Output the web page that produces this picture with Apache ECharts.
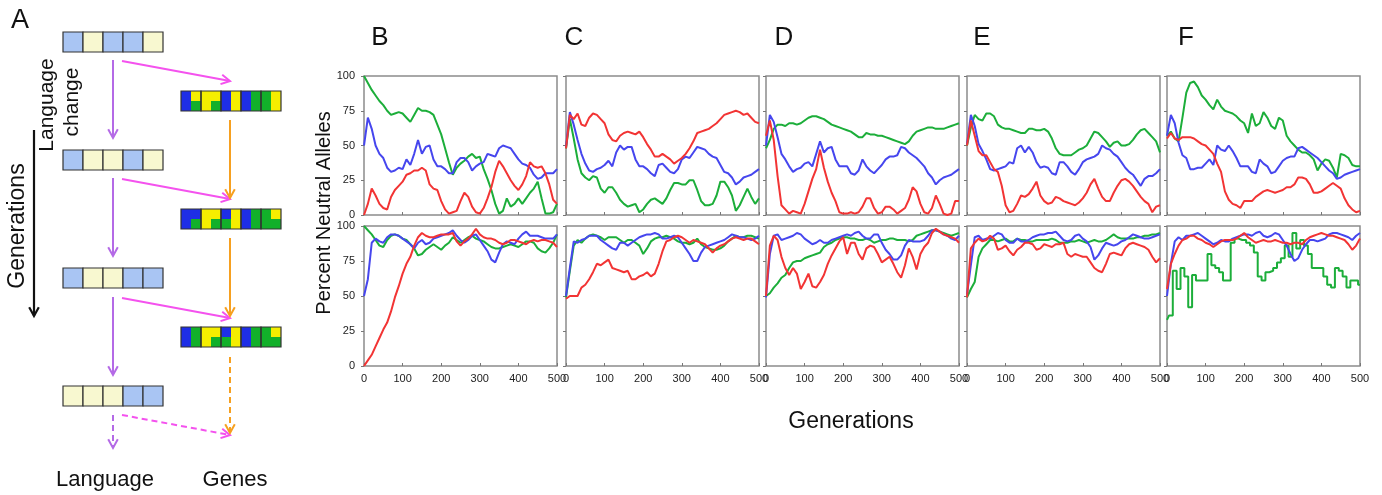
<!DOCTYPE html>
<html><head><meta charset="utf-8">
<script src="https://cdn.jsdelivr.net/npm/echarts@6/dist/echarts.min.js"></script>
<style>html,body{margin:0;padding:0;background:#fff}#c{width:1382px;height:495px}</style>
</head><body><div id="c"></div><script>
// ---------- DATA ----------
const gens = [0,10,20,30,40,50,60,70,80,90,100,110,120,130,140,150,160,170,180,190,200,210,220,230,240,250,260,270,280,290,300,310,320,330,340,350,360,370,380,390,400,410,420,430,440,450,460,470,480,490,500];
const xTicks = [0,100,200,300,400,500];
const yTicks = [0,25,50,75,100];
const panelLetters = ['B','C','D','E','F'];

const bTopG = [100,95,90,86,82,79,75,72,73,74,73,70,67,72,77,75,75,74,72,65,58,48,38,29,34,37,39,42,44,41,42,33,26,18,8,1,3,12,6,8,12,8,12,16,19,24,12,1,1,2,8];
const bTopB = [50,70,62,50,44,41,34,31,32,34,33,40,36,44,54,44,49,50,40,35,35,33,30,30,38,41,41,38,32,35,37,38,44,43,42,48,50,49,48,44,40,37,36,34,29,26,27,30,30,30,33];
const bTopR = [0,8,19,14,8,5,4,13,18,21,24,29,30,32,32,34,32,22,19,18,10,4,1,2,3,10,16,13,6,2,1,5,12,20,31,39,35,30,25,21,18,22,28,38,35,34,35,30,22,11,8];
const bBotB = [50,62,88,91,89,88,92,94,94,93,91,89,87,84,88,90,87,88,91,92,93,94,95,97,93,90,88,90,93,94,90,86,82,76,74,81,87,89,88,87,91,94,96,93,93,93,92,91,91,91,94];
const bBotG = [100,97,94,90,86,85,90,93,94,93,91,90,87,84,79,80,83,85,87,85,83,86,88,92,90,88,90,92,93,91,90,89,87,85,84,84,85,86,87,86,85,87,89,89,88,84,82,81,84,88,94];
const bBotR = [0,4,8,14,20,26,31,39,49,57,66,73,78,86,92,95,93,92,92,93,94,94,94,95,89,86,89,91,94,98,94,92,91,91,90,88,87,88,90,90,89,88,87,89,90,89,90,90,89,88,85];

const cTopR = [48,72,69,73,65,64,70,73,72,69,66,58,54,53,57,59,60,59,58,60,56,51,47,42,42,44,42,40,37,39,41,44,48,53,59,60,61,62,64,66,69,72,73,74,75,74,72,73,70,67,66];
const cTopB = [49,74,65,54,44,37,32,31,33,34,36,39,35,45,50,47,49,49,40,35,35,33,30,28,36,37,34,31,30,33,40,42,41,45,49,48,47,44,42,41,36,31,30,27,22,24,27,28,29,31,33];
const cTopG = [48,69,55,40,30,27,25,28,27,19,16,20,20,16,11,8,6,7,8,2,4,8,11,12,10,8,12,18,23,23,22,22,25,25,18,10,7,7,8,14,24,24,20,14,3,7,13,19,13,8,12];
const cBotB = [50,70,89,88,90,91,93,93,93,90,88,86,84,83,88,88,86,88,90,92,93,94,94,95,94,91,91,92,93,92,88,84,80,75,75,81,85,86,87,88,89,90,92,94,93,92,92,91,90,91,93];
const cBotG = [49,68,86,90,88,91,93,94,93,92,90,92,92,92,90,88,90,90,88,86,80,84,89,91,92,92,93,92,91,89,88,88,87,88,91,87,85,84,83,83,84,86,89,91,93,92,92,93,93,92,91];
const cBotR = [48,50,50,50,56,58,62,67,73,72,74,76,70,69,68,67,68,62,62,64,65,67,64,66,73,82,89,90,92,93,92,90,88,90,89,88,87,84,81,84,86,87,89,91,92,91,90,91,91,89,87];

const dTopG = [48,54,62,65,65,64,66,66,65,66,68,70,71,71,70,69,67,65,64,63,62,61,60,58,56,56,59,58,58,57,57,56,55,54,53,52,51,53,57,60,61,62,63,63,62,62,62,63,64,65,66];
const dTopB = [50,72,67,56,44,40,35,31,33,34,37,38,35,44,53,45,48,49,40,35,35,35,30,29,32,40,35,32,30,33,36,40,42,42,43,49,48,45,43,41,38,35,30,27,22,25,27,28,29,31,33];
const dTopR = [57,68,54,28,7,4,1,3,2,1,8,17,26,33,47,34,24,16,10,2,1,1,2,1,2,6,12,12,5,1,2,6,6,4,1,3,5,11,20,17,8,2,1,5,14,8,1,0,1,10,10];
const dBotB = [49,80,93,94,90,91,92,93,95,94,91,89,87,88,90,88,88,90,91,92,93,94,93,95,96,93,91,91,94,94,88,83,80,76,76,79,86,90,89,89,89,90,93,97,97,96,94,93,91,90,93];
const dBotG = [50,52,56,59,63,65,70,74,75,75,77,78,79,80,81,85,87,88,90,91,92,92,91,91,90,90,91,90,88,89,90,90,91,91,90,90,90,89,90,93,94,95,96,97,97,96,95,94,93,94,95];
const dBotR = [50,86,93,90,78,70,65,70,66,55,60,66,57,56,60,65,73,79,84,89,92,80,88,88,80,76,84,86,85,80,74,76,78,73,67,63,72,84,78,69,80,85,88,95,98,96,94,93,92,91,88];

const eTopG = [50,63,72,69,68,73,73,71,65,63,62,62,61,60,59,59,62,62,61,61,62,60,55,48,44,43,43,43,45,47,48,50,55,60,59,56,53,49,52,53,50,50,51,54,58,61,62,59,56,53,45];
const eTopB = [51,72,64,51,46,40,33,32,33,34,35,38,37,48,50,45,49,45,38,34,35,34,30,29,38,38,35,31,29,33,38,40,41,42,44,50,48,47,44,42,38,34,31,29,25,21,26,28,28,30,33];
const eTopR = [50,68,57,46,43,43,38,33,31,21,7,2,3,8,14,13,15,19,24,14,10,8,9,13,12,10,9,8,7,9,12,16,22,26,19,13,10,10,16,21,25,26,24,21,17,13,10,8,2,6,7];
const eBotB = [51,72,92,93,90,91,91,93,95,94,90,88,88,91,89,89,90,92,93,94,94,95,95,96,93,90,89,90,93,94,91,89,85,76,79,84,88,87,86,87,89,90,92,94,93,92,91,91,92,93,94];
const eBotG = [49,55,60,78,84,87,90,90,89,90,91,89,89,91,90,90,89,89,90,90,90,90,91,90,88,88,88,89,89,90,89,88,89,90,89,89,90,92,94,92,91,91,91,91,92,92,93,93,94,94,95];
const eBotR = [49,84,88,91,89,90,93,91,83,84,86,82,79,83,85,88,88,87,83,84,87,86,85,87,87,88,80,78,80,79,78,78,74,70,68,67,73,80,81,80,79,84,87,88,87,86,85,83,78,74,77];

const fTopG = [57,60,55,53,70,88,95,96,92,86,83,79,76,83,78,75,74,73,71,68,66,59,73,64,66,74,70,64,62,70,68,57,53,50,47,45,45,43,40,32,37,40,39,34,27,44,43,41,36,35,35];
const fTopB = [57,72,66,52,43,41,33,33,34,34,37,40,36,50,47,46,50,46,41,35,35,35,31,30,40,37,35,30,31,35,39,41,42,42,48,49,47,45,43,41,38,35,32,30,26,27,29,30,31,32,33];
const fTopR = [55,59,55,54,56,56,56,55,53,51,50,47,44,37,31,17,11,8,7,5,10,10,10,13,15,17,18,17,16,17,18,20,20,22,27,27,26,22,16,16,17,19,21,23,21,19,12,7,4,2,3];
const fBotB = [50,73,89,92,90,93,93,94,95,93,91,89,87,88,90,89,89,91,92,93,94,94,93,95,96,93,92,93,95,94,90,86,80,75,77,83,87,90,90,89,90,91,94,95,95,94,93,92,90,93,95];
const fBotR = [55,73,80,86,90,91,93,93,91,90,88,87,85,87,89,90,90,90,91,93,95,92,90,88,89,90,89,89,90,89,88,88,87,88,88,87,90,92,93,94,95,94,93,93,92,91,90,87,83,86,91];
const fBotG = [33,36,68,55,70,64,42,65,61,61,61,80,72,70,67,61,61,88,91,90,90,88,86,81,64,61,67,68,70,74,77,86,78,95,84,90,86,80,70,70,70,64,58,56,70,68,64,56,61,61,58];

// schematic (panel A) content
const langRows = [['B','Y','B','B','Y'],['B','Y','Y','B','Y'],['B','Y','Y','B','B'],['Y','Y','Y','B','B']];
const geneBars = [['B','YG','Y','YG','B','Y','B','G','G','Y'],['B','BG','Y','YG','BG','Y','B','G','G','YG'],['B','G','Y','YG','BG','Y','B','G','G','YG']];

// ---------- CHART ----------
const panels = [
  {g:bTopG,b:bTopB,r:bTopR,col:0,row:0},{g:bBotG,b:bBotB,r:bBotR,col:0,row:1},
  {g:cTopG,b:cTopB,r:cTopR,col:1,row:0},{g:cBotG,b:cBotB,r:cBotR,col:1,row:1},
  {g:dTopG,b:dTopB,r:dTopR,col:2,row:0},{g:dBotG,b:dBotB,r:dBotR,col:2,row:1},
  {g:eTopG,b:eTopB,r:eTopR,col:3,row:0},{g:eBotG,b:eBotB,r:eBotR,col:3,row:1},
  {g:fTopG,b:fTopB,r:fTopR,col:4,row:0,},{g:fBotG,b:fBotB,r:fBotR,col:4,row:1,stepG:true}
];
const colLefts = [364,566,766,967,1167];
const COLORS = {g:'#1cae3a', b:'#4646ee', r:'#f23434'};
const tickFont = "'Liberation Sans Narrow','Liberation Sans',sans-serif";
const mainFont = "'Liberation Sans',Arial,sans-serif";

const grids=[], xAxes=[], yAxes=[], series=[];
panels.forEach((p,i)=>{
  grids.push({left:colLefts[p.col], top:p.row?226:76, width:193, height:p.row?140:139,
    show:true, borderColor:'#8c8c8c', borderWidth:1.5, containLabel:false});
  xAxes.push({type:'value', gridIndex:i, min:xTicks[0], max:xTicks[xTicks.length-1], interval:100,
    axisLine:{show:false}, splitLine:{show:false},
    axisTick:{show:true, inside:true, length:3, lineStyle:{color:'#777'}},
    axisLabel:{show:p.row===1, fontSize:11, color:'#222', margin:7, fontFamily:tickFont, showMinLabel:true, showMaxLabel:true}});
  yAxes.push({type:'value', gridIndex:i, min:yTicks[0], max:yTicks[yTicks.length-1], interval:25,
    axisLine:{show:false}, splitLine:{show:false},
    axisTick:{show:true, inside:false, length:3, lineStyle:{color:'#777'}},
    axisLabel:{show:p.col===0, fontSize:11, color:'#222', margin:9, fontFamily:tickFont}});
  ['g','b','r'].forEach(k=>{
    series.push({type:'line', xAxisIndex:i, yAxisIndex:i, showSymbol:false, symbol:'none',
      step:(k==='g'&&p.stepG)?'middle':false,
      data:gens.map((x,j)=>[x,p[k][j]]),
      lineStyle:{color:COLORS[k], width:2}, itemStyle:{color:COLORS[k]}, z:2, animation:false});
  });
});

// graphic helpers
const G = [];
function txt(s,x,y,size,opt){
  opt=opt||{};
  G.push({type:'text', x:x, y:y, rotation:opt.rot||0, z:10,
    style:{text:s, x:0, y:0, fill:'#111', font:size+'px '+mainFont, textAlign:opt.align||'center', textVerticalAlign:'middle'}});
}
function arrow(x1,y1,x2,y2,color,dashed,w){
  w=w||2;
  G.push({type:'line', shape:{x1:x1,y1:y1,x2:x2,y2:y2}, z:5,
    style:{stroke:color, lineWidth:w, lineDash:dashed?[6,4]:null}});
  const a=Math.atan2(y2-y1,x2-x1), L=10, s=0.5;
  G.push({type:'polyline', z:5, shape:{points:[[x2-L*Math.cos(a-s),y2-L*Math.sin(a-s)],[x2,y2],[x2-L*Math.cos(a+s),y2-L*Math.sin(a+s)]]},
    style:{stroke:color, lineWidth:w, fill:null}});
}
const langColors={B:'#a9c5f3',Y:'#f8f8d0'};
const geneColors={B:'#1e2ee6',Y:'#f5ee00',G:'#12b02a'};
const langY=[32,150,268,386];
langRows.forEach((row,ri)=>{
  row.forEach((c,ci)=>{
    G.push({type:'rect', z:4, shape:{x:63+ci*20,y:langY[ri],width:20,height:20},
      style:{fill:langColors[c], stroke:'#333', lineWidth:1.2}});
  });
});
const geneY=[91,209,327];
geneBars.forEach((bar,bi)=>{
  bar.forEach((c,ci)=>{
    const x=181+ci*10, y=geneY[bi];
    if(c.length===1){
      G.push({type:'rect', z:4, shape:{x:x,y:y,width:10,height:20}, style:{fill:geneColors[c]}});
    } else {
      G.push({type:'rect', z:4, shape:{x:x,y:y,width:10,height:10}, style:{fill:geneColors[c[0]]}});
      G.push({type:'rect', z:4, shape:{x:x,y:y+10,width:10,height:10}, style:{fill:geneColors[c[1]]}});
    }
  });
  for(let k=0;k<5;k++){
    G.push({type:'rect', z:6, shape:{x:181+k*20,y:geneY[bi],width:20,height:20}, style:{fill:null, stroke:'#333', lineWidth:1.2}});
  }
});
const PUR='#b46ae6', MAG='#f452ee', ORA='#f6a020';
arrow(113,60,113,138,PUR); arrow(113,178,113,256,PUR); arrow(113,297,113,375,PUR); arrow(113,415,113,448,PUR,true);
arrow(122,61,230,81,MAG); arrow(122,179,230,199,MAG); arrow(122,298,230,318,MAG); arrow(122,415,230,435,MAG,true);
arrow(230,120,230,198,ORA); arrow(230,238,230,316,ORA); arrow(230,357,230,433,ORA,true);
arrow(34,130,34,316,'#111',false,2.2);

txt('A',20,21,27);
txt('Language',47,105,21,{rot:Math.PI/2});
txt('change',72,102,21,{rot:Math.PI/2});
txt('Generations',18,226,23,{rot:Math.PI/2});
txt('Language',105,480,22);
txt('Genes',235,480,22);
const letterX=[380,574,784,982,1186];
panelLetters.forEach((L,i)=>txt(L,letterX[i],38,26));
txt('Percent Neutral Alleles',324,213,20,{rot:Math.PI/2});
txt('Generations',851,422,23);

const chart = echarts.init(document.getElementById('c'), null, {renderer:'canvas'});
chart.setOption({animation:false, backgroundColor:'#fff', grid:grids, xAxis:xAxes, yAxis:yAxes, series:series, graphic:G});
</script></body></html>
